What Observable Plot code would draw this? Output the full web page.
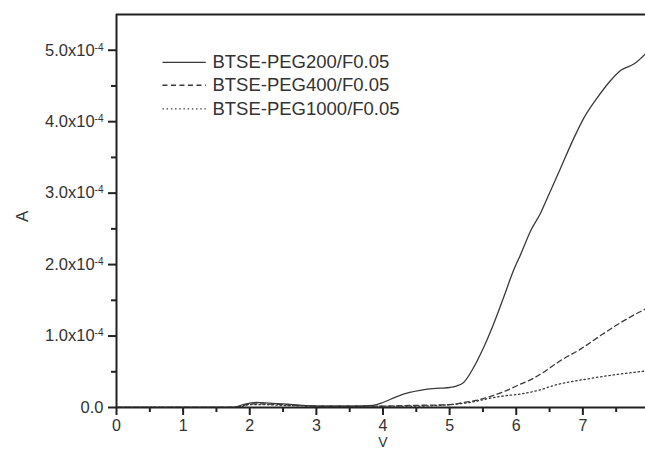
<!DOCTYPE html>
<html>
<head>
<meta charset="utf-8">
<script src="https://cdn.jsdelivr.net/npm/d3@7"></script>
<script src="https://cdn.jsdelivr.net/npm/@observablehq/plot@0.6"></script>
<style>
  html, body { margin: 0; padding: 0; background: #fff; overflow: hidden; }
  #chart svg { display: block; font-family: "Liberation Sans", Arial, sans-serif; }
</style>
</head>
<body>
<div id="chart"></div>
<script>
// Current A in units of 1e-4 A, voltage V in volts
const seriesNames = ["BTSE-PEG200/F0.05", "BTSE-PEG400/F0.05", "BTSE-PEG1000/F0.05"];

const peg200V = [0, 1.7, 1.8, 1.9, 2.0, 2.1, 2.3, 2.5, 2.8, 3.0, 3.3, 3.6, 3.85, 4.0, 4.2, 4.4, 4.56, 4.7, 4.86, 5.0, 5.1, 5.21, 5.36, 5.51, 5.66, 5.81, 5.96, 6.07, 6.22, 6.37, 6.47, 6.67, 6.87, 7.02, 7.22, 7.42, 7.57, 7.77, 7.94];
const peg200A = [0, 0, 0.01, 0.04, 0.06, 0.07, 0.06, 0.05, 0.03, 0.02, 0.02, 0.02, 0.03, 0.07, 0.15, 0.21, 0.24, 0.26, 0.27, 0.28, 0.30, 0.35, 0.56, 0.84, 1.17, 1.54, 1.92, 2.15, 2.48, 2.73, 2.94, 3.36, 3.78, 4.06, 4.34, 4.58, 4.72, 4.81, 4.95];

const peg400V = [0, 1.8, 2.0, 2.2, 2.5, 3.0, 3.5, 4.0, 4.5, 5.0, 5.21, 5.4, 5.56, 5.86, 6.07, 6.22, 6.37, 6.67, 6.97, 7.27, 7.57, 7.94];
const peg400A = [0, 0, 0.05, 0.05, 0.04, 0.02, 0.02, 0.02, 0.03, 0.04, 0.07, 0.10, 0.14, 0.24, 0.33, 0.39, 0.47, 0.66, 0.82, 1.01, 1.19, 1.38];

const peg1000V = [0, 1.8, 2.0, 2.2, 2.5, 3.0, 3.5, 4.0, 4.5, 5.0, 5.3, 5.56, 5.8, 6.07, 6.37, 6.57, 7.07, 7.57, 7.94];
const peg1000A = [0, 0, 0.04, 0.04, 0.03, 0.02, 0.02, 0.02, 0.02, 0.04, 0.07, 0.12, 0.16, 0.19, 0.25, 0.31, 0.40, 0.47, 0.51];

const xMajorTicks = [0, 1, 2, 3, 4, 5, 6, 7];
const xMinorTicks = [0.5, 1.5, 2.5, 3.5, 4.5, 5.5, 6.5, 7.5];
const yMajorTicks = [0, 1, 2, 3, 4, 5];
const yMinorTicks = [0.5, 1.5, 2.5, 3.5, 4.5];
const yExponent = "-4";

const dashes = [null, "5,3.5", "1.4,2.8"];
const seriesV = [peg200V, peg400V, peg1000V];
const seriesA = [peg200A, peg400A, peg1000A];

const rows = [];
seriesNames.forEach((name, i) => {
  seriesV[i].forEach((v, j) => rows.push({series: name, V: v, A: seriesA[i][j]}));
});

// legend placement (data space of the plot)
const legendX1 = 0.69, legendX2 = 1.34, legendTextX = 1.44;
const legendRowsA = [4.83, 4.51, 4.18];
const legend = seriesNames.map((name, i) => ({name, dash: dashes[i], a: legendRowsA[i]}));

const ink = "#222";
const textInk = "#333";
const curveInk = "#3a3a3a";

const marks = [
  // curves
  ...seriesNames.map((name, i) => Plot.line(rows.filter(d => d.series === name), {
    x: "V", y: "A", curve: "monotone-x", stroke: curveInk, strokeWidth: 1.3,
    strokeDasharray: dashes[i] || undefined, clip: true
  })),
  // legend
  ...legend.map(l => Plot.link([l], {
    x1: () => legendX1, x2: () => legendX2, y1: "a", y2: "a",
    stroke: curveInk, strokeWidth: 1.3, strokeDasharray: l.dash || undefined
  })),
  Plot.text(legend, {
    x: () => legendTextX, y: "a", text: "name", textAnchor: "start",
    fontSize: 18.5, fill: textInk, style: "letter-spacing:0.7px"
  }),
  // frame lines
  Plot.ruleY([5.5], {stroke: ink, strokeWidth: 2}),
  Plot.ruleY([0], {stroke: ink, strokeWidth: 2}),
  Plot.ruleX([0], {stroke: ink, strokeWidth: 2}),
  // axes
  Plot.axisX(xMajorTicks, {tickSize: 8, tickPadding: 4, strokeWidth: 2, stroke: ink,
    fontSize: 16, fill: textInk, label: null, tickFormat: d => String(d)}),
  Plot.axisX(xMinorTicks, {tickSize: 5, strokeWidth: 2, stroke: ink, label: null, tickFormat: () => ""}),
  Plot.axisY(yMajorTicks, {tickSize: 8, tickPadding: 5, strokeWidth: 2, stroke: ink,
    fontSize: 16.5, fill: textInk, label: null,
    tickFormat: d => d === 0 ? "0.0" : d.toFixed(1) + "x10"}),
  Plot.axisY(yMinorTicks, {tickSize: 5, strokeWidth: 2, stroke: ink, label: null, tickFormat: () => ""}),
  // axis titles
  Plot.text(["A"], {frameAnchor: "left", dx: -94, dy: 11, rotate: -90, fontSize: 17, fill: textInk}),
  Plot.text(["V"], {frameAnchor: "bottom", dx: 2, dy: 39.5, fontSize: 14, fill: textInk})
];

const chart = Plot.plot({
  width: 645,
  height: 454,
  marginLeft: 116,
  marginRight: 0,
  marginTop: 14,
  marginBottom: 47,
  x: {domain: [0, 7.94]},
  y: {domain: [0, 5.5]},
  style: {background: "#fff", color: ink, fontFamily: "'Liberation Sans', Arial, sans-serif"},
  marks
});

// superscript exponent on y tick labels
chart.querySelectorAll('g[aria-label="y-axis tick label"] text').forEach(t => {
  if (t.textContent.endsWith("x10")) {
    const ts = document.createElementNS("http://www.w3.org/2000/svg", "tspan");
    ts.setAttribute("dy", "-0.5em");
    ts.setAttribute("font-size", "10");
    ts.textContent = yExponent;
    t.appendChild(ts);
  }
});

document.getElementById("chart").appendChild(chart);
</script>
</body>
</html>
